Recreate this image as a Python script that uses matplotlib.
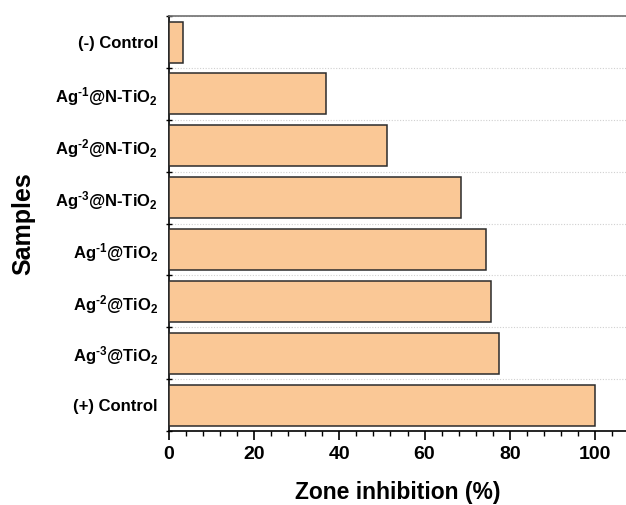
import matplotlib
matplotlib.use('Agg')
import matplotlib.pyplot as plt
import numpy as np

plt.rcParams['font.family'] = 'Liberation Sans'
plt.rcParams['font.weight'] = 'bold'
plt.rcParams['mathtext.fontset'] = 'custom'
plt.rcParams['mathtext.rm'] = 'Liberation Sans:bold'
plt.rcParams['mathtext.bf'] = 'Liberation Sans:bold'
plt.rcParams['mathtext.default'] = 'bf'

# top to bottom as in the figure
samples = ['(-) Control',
           'Ag$^{\u20101}$@N-TiO$_2$',
           'Ag$^{\u20102}$@N-TiO$_2$',
           'Ag$^{\u20103}$@N-TiO$_2$',
           'Ag$^{\u20101}$@TiO$_2$',
           'Ag$^{\u20102}$@TiO$_2$',
           'Ag$^{\u20103}$@TiO$_2$',
           '(+) Control']
inhibition = [3.2, 36.8, 51.1, 68.6, 74.4, 75.5, 77.5, 100]
x_ticks = [0, 20, 40, 60, 80, 100]

fig = plt.figure(figsize=(6.26, 5.05), dpi=100)
ax = fig.add_axes([0.27, 0.1465, 0.73, 0.8215])

pos = np.arange(len(samples))
ax.barh(pos, inhibition, height=0.79, color='#FAC896', edgecolor='#2b2b2b',
        linewidth=1.1, zorder=3)

ax.set_ylim(len(samples) - 0.5, -0.5)
ax.set_xlim(0, 107.3)

ax.set_yticks(pos)
ax.set_yticklabels(samples, fontsize=12, fontweight='bold')
ax.tick_params(axis='y', which='major', length=0, pad=8)
ax.set_yticks(np.arange(len(samples) + 1) - 0.5, minor=True)
ax.tick_params(axis='y', which='minor', direction='inout', length=5, width=1)
ax.grid(axis='y', which='minor', linestyle=(0, (1, 1.5)), color='#d0d0d0',
        linewidth=0.8, zorder=0)

ax.set_xticks(x_ticks)
ax.set_xticklabels([str(t) for t in x_ticks], fontsize=14, fontweight='bold')
ax.set_xticks(np.arange(0, 108, 4), minor=True)
ax.tick_params(axis='x', which='major', direction='out', length=6.5, width=1.2, pad=4)
ax.tick_params(axis='x', which='minor', direction='out', length=3.5, width=1)

ax.spines['right'].set_visible(False)
ax.spines['top'].set_color('#707070')
ax.spines['top'].set_linewidth(1.2)
ax.spines['left'].set_linewidth(1.2)
ax.spines['bottom'].set_linewidth(1.2)

ax.set_xlabel('Zone inhibition (%)', fontsize=16.5, fontweight='bold', labelpad=13)
ax.set_ylabel('Samples', fontsize=18, fontweight='bold', labelpad=14)

fig.savefig('out.png', dpi=100)
